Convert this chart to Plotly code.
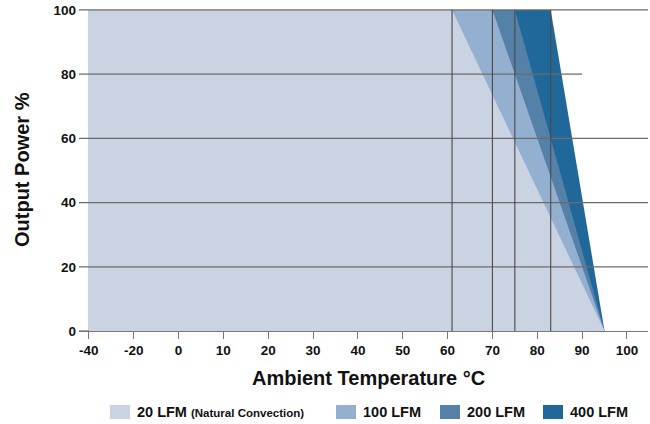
import plotly.graph_objects as go

# ---- data ----
series_names = ["20 LFM", "100 LFM", "200 LFM", "400 LFM"]
knee_temps = [61, 70, 75, 83]          # end of 100% flat region (°C)
max_temp = 95                           # temperature where output reaches 0 %
min_temp = -40
full_power = 100
colors = ["#cad3e2", "#93b0d0", "#5581a9", "#1f6899"]

x_tick_labels = [-40, -20, 0, 10, 20, 30, 40, 50, 60, 70, 80, 90, 100]
y_tick_labels = [0, 20, 40, 60, 80, 100]
grid_right_ext = {100: 104.7, 80: 90, 60: 104.7, 40: 104.7, 20: 104.7}

FONT = "Liberation Sans, Arial, sans-serif"


def pos(t):
    """Axis is compressed below 0 °C (-40, -20 spaced like 10 °C steps)."""
    return t if t >= 0 else t / 2.0


fig = go.Figure()

# draw largest area first, lightest last
for name, knee, col in reversed(list(zip(series_names, knee_temps, colors))):
    xs = [pos(min_temp), pos(knee), pos(max_temp)]
    ys = [full_power, full_power, 0]
    fig.add_trace(go.Scatter(x=xs, y=ys, mode="lines", fill="tozeroy",
                             fillcolor=col, line=dict(width=0, color=col),
                             name=name, showlegend=False, hoverinfo="skip"))

shapes = []
# horizontal grid lines (including short y tick at left)
for yv in y_tick_labels[1:]:
    shapes.append(dict(type="line", xref="x", yref="y", x0=-22.2, x1=grid_right_ext[yv],
                       y0=yv, y1=yv, line=dict(color="#6f6b6b", width=1.3), layer="above"))
# y=0 tick
shapes.append(dict(type="line", xref="x", yref="y", x0=-22.2, x1=pos(min_temp),
                   y0=0, y1=0, line=dict(color="#6f6b6b", width=1.3), layer="above"))
# vertical knee lines
for knee in knee_temps:
    shapes.append(dict(type="line", xref="x", yref="y", x0=pos(knee), x1=pos(knee),
                       y0=0, y1=full_power, line=dict(color="#4d4848", width=1.1), layer="above"))

annotations = []
# axis titles
annotations.append(dict(text="<b>Ambient Temperature °C</b>", xref="paper", yref="paper",
                        x=(368 - 79) / 569, y=(331 - 378) / 323, showarrow=False,
                        font=dict(size=20, color="#111", family=FONT), xanchor="center", yanchor="middle"))
annotations.append(dict(text="<b>Output Power %</b>", xref="paper", yref="paper",
                        x=(22 - 79) / 569, y=(331 - 170) / 323, showarrow=False, textangle=-90,
                        font=dict(size=20, color="#111", family=FONT), xanchor="center", yanchor="middle"))

# manual legend
legend_swatch_x = [110, 336, 440, 543]
legend_text = ["<b>20 LFM</b> <span style='font-size:11.5px'><b>(Natural Convection)</b></span>",
               "<b>100 LFM</b>", "<b>200 LFM</b>", "<b>400 LFM</b>"]
for sx, col, txt in zip(legend_swatch_x, colors, legend_text):
    x0 = (sx - 79) / 569
    x1 = (sx + 20 - 79) / 569
    shapes.append(dict(type="rect", xref="paper", yref="paper", x0=x0, x1=x1,
                       y0=(331 - 419) / 323, y1=(331 - 405) / 323,
                       fillcolor=col, line=dict(width=0)))
    annotations.append(dict(text=txt, xref="paper", yref="paper", x=(sx + 25 - 79) / 569,
                            y=(331 - 412) / 323, showarrow=False, xanchor="left", yanchor="middle",
                            font=dict(size=14.5, color="#111", family=FONT)))

fig.update_layout(
    width=650, height=424,
    margin=dict(l=79, r=2, t=8, b=93),
    paper_bgcolor="white", plot_bgcolor="white",
    showlegend=False,
    shapes=shapes, annotations=annotations,
    xaxis=dict(range=[-22.2, 104.7], tickvals=[pos(t) for t in x_tick_labels],
               ticktext=[str(t) for t in x_tick_labels], showgrid=False, zeroline=False,
               showline=True, linecolor="#7a7676", linewidth=1.3,
               ticks="outside", ticklen=7, tickcolor="#7a7676", tickwidth=1.2,
               tickfont=dict(size=13.5, color="#111", family=FONT, weight="bold"),
               fixedrange=True),
    yaxis=dict(range=[0, 100.6], tickvals=y_tick_labels, showgrid=False, zeroline=False,
               showline=False, ticks="", ticklabelstandoff=2,
               tickfont=dict(size=13.5, color="#111", family=FONT, weight="bold"),
               fixedrange=True),
)

fig.write_html("out.html", config={"displayModeBar": False},
               post_script="document.body.style.margin='0';document.body.style.padding='0';")
